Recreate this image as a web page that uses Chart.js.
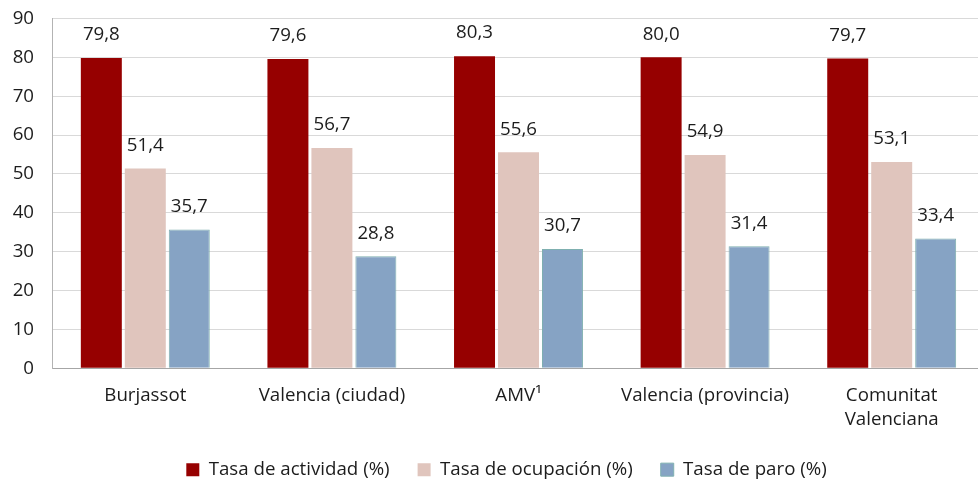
<!DOCTYPE html>
<html>
<head>
<meta charset="utf-8">
<script src="https://cdn.jsdelivr.net/npm/chart.js@4/dist/chart.umd.min.js"></script>
<style>
  html, body { margin: 0; padding: 0; background: #ffffff; overflow: hidden; }
  #wrap { width: 986px; height: 483px; }
</style>
</head>
<body>
<div id="wrap"><canvas id="c" width="986" height="483"></canvas></div>
<script>
const categories = ["Burjassot", "Valencia (ciudad)", "AMV¹", "Valencia (provincia)", ["Comunitat", "Valenciana"]];
const seriesNames = ["Tasa de actividad (%)", "Tasa de ocupación (%)", "Tasa de paro (%)"];
const tasaActividad = [79.8, 79.6, 80.3, 80.0, 79.7];
const tasaOcupacion = [51.4, 56.7, 55.6, 54.9, 53.1];
const tasaParo = [35.7, 28.8, 30.7, 31.4, 33.4];
const yTicks = [0, 10, 20, 30, 40, 50, 60, 70, 80, 90];

const FONT = "'Open Sans', 'DejaVu Sans', sans-serif";
const FS = 18.7;
const TEXT = "#1c1c1c";

const valueLabels = {
  id: 'valueLabels',
  afterDatasetsDraw(chart) {
    const ctx = chart.ctx;
    ctx.save();
    ctx.font = FS + "px " + FONT;
    ctx.fillStyle = TEXT;
    ctx.textAlign = 'center';
    ctx.textBaseline = 'middle';
    chart.data.datasets.forEach((ds, i) => {
      const meta = chart.getDatasetMeta(i);
      meta.data.forEach((bar, j) => {
        const v = ds.data[j];
        ctx.fillText(v.toFixed(1).replace('.', ','), bar.x, bar.y - 23);
      });
    });
    ctx.restore();
  }
};

const legendShift = {
  id: 'legendShift',
  afterLayout(chart) {
    const lg = chart.legend;
    if (!lg) return;
    lg.left += 14; lg.right += 14;
    lg.top += 6; lg.bottom += 6;
  }
};

new Chart(document.getElementById('c'), {
  type: 'bar',
  data: {
    labels: categories,
    datasets: [
      { label: seriesNames[0], data: tasaActividad, backgroundColor: '#960000', borderWidth: 0 },
      { label: seriesNames[1], data: tasaOcupacion, backgroundColor: '#e0c5bd', borderWidth: 0 },
      { label: seriesNames[2], data: tasaParo, backgroundColor: '#86a3c4', borderColor: '#7fb0b0', borderWidth: 1 }
    ]
  },
  options: {
    responsive: false,
    animation: false,
    devicePixelRatio: 1,
    layout: { padding: { top: 0, right: 1, bottom: 0, left: 0 } },
    datasets: { bar: { categoryPercentage: 0.707, barPercentage: 0.932 } },
    plugins: {
      legend: {
        position: 'bottom',
        labels: {
          font: { family: FONT, size: FS },
          color: TEXT,
          boxWidth: 13,
          boxHeight: 13,
          padding: 28
        }
      },
      tooltip: { enabled: false }
    },
    scales: {
      x: {
        grid: { display: false, drawTicks: false },
        border: { display: true, color: '#a6a6a6', width: 1 },
        ticks: { font: { family: FONT, size: FS, lineHeight: 1.26 }, color: TEXT, padding: 16, maxRotation: 0, autoSkip: false },
        afterFit(s) { s.height = 58; }
      },
      y: {
        min: 0, max: 90,
        afterBuildTicks(s) { s.ticks = yTicks.map(v => ({ value: v })); },
        grid: { color: '#d9d9d9', lineWidth: 1, drawTicks: false },
        border: { display: true, color: '#b3b3b3', width: 1 },
        ticks: { font: { family: FONT, size: FS, lineHeight: 0.05 }, color: TEXT, padding: 18 },
        afterFit(s) { s.width = 52; }
      }
    }
  },
  plugins: [valueLabels, legendShift]
});
</script>
</body>
</html>
